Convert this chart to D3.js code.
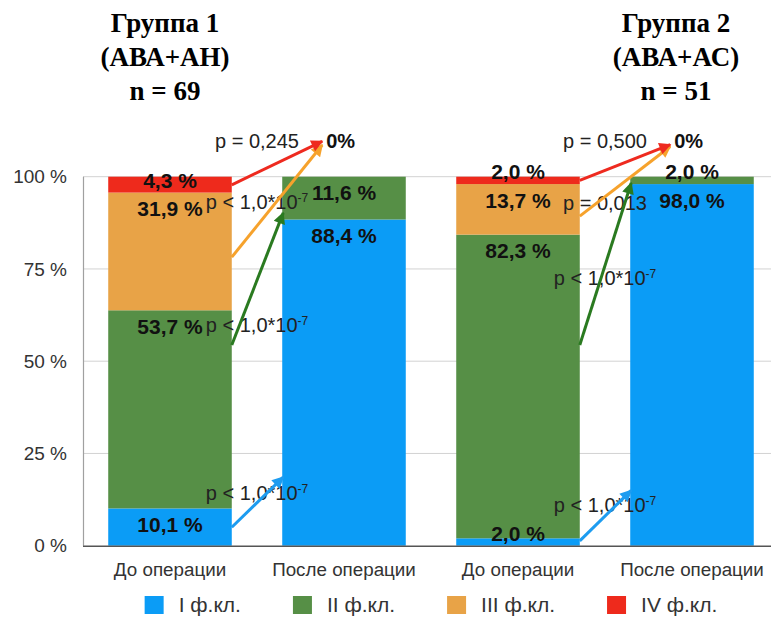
<!DOCTYPE html>
<html>
<head>
<meta charset="utf-8">
<script src="https://cdn.jsdelivr.net/npm/d3@7"></script>
<style>
  html, body { margin: 0; padding: 0; background: #fff; }
  svg { display: block; }
</style>
</head>
<body>
<svg id="chart" width="771" height="619"></svg>
<script>
// ---- data ----
const categories = ["g1-before", "g1-after", "g2-before", "g2-after"];
const categoryLabels = ["До операции", "После операции", "До операции", "После операции"];
const classNames = ["I ф.кл.", "II ф.кл.", "III ф.кл.", "IV ф.кл."];
const classI   = [10.1, 88.4, 2.0, 98.0];
const classII  = [53.7, 11.6, 82.3, 2.0];
const classIII = [31.9, 0, 13.7, 0];
const classIV  = [4.3, 0, 2.0, 0];
const yTicks = [0, 25, 50, 75, 100];

const groupTitles = [
  ["Группа 1", "(АВА+АН)", "n = 69"],
  ["Группа 2", "(АВА+АС)", "n = 51"]
];

// transitions before -> after, per group and class (I..IV)
const pValuesG1 = ["p < 1,0*10|-7", "p < 1,0*10|-7", "p < 1,0*10|-7", "p = 0,245"];
const pValuesG2 = ["p < 1,0*10|-7", "p < 1,0*10|-7", "p = 0,013", "p = 0,500"];
// arrow start / end levels (%) and p-label level (%)
const arrowFromG1 = [5.0, 54.4, 78.2, 97.8];
const arrowToG1   = [18.6, 90.2, 108.6, 109.6];
const labelAtG1   = [12.4, 57.9, 91.2, 107.8];
const arrowFromG2 = [1.3, 54.4, 89.3, 99.0];
const arrowToG2   = [15.0, 98.3, 108.2, 108.7];
const labelAtG2   = [9.1, 70.6, 90.9, 107.8];

// ---- layout ----
const svg = d3.select("#chart");
const colors = ["#0b9cf6", "#568f46", "#e8a347", "#ee2a1c"];
const arrowColors = ["#1d9cf0", "#2a7a20", "#f6a22c", "#ee2a1f"];
const fontSans = "'Liberation Sans', Arial, Helvetica, sans-serif";

const x = d3.scaleBand().domain(categories).range([83, 779])
  .paddingInner(0.29).paddingOuter(0.145);
const y = d3.scaleLinear().domain([0, 100]).range([545.7, 176.7]);

// gridlines
svg.append("g").selectAll("line").data(yTicks.filter(d => d > 0)).join("line")
  .attr("x1", 83).attr("x2", 771)
  .attr("y1", d => y(d)).attr("y2", d => y(d))
  .attr("stroke", "#d2d2d2").attr("stroke-width", 1);

// left axis line
svg.append("line").attr("x1", 83.5).attr("x2", 83.5)
  .attr("y1", y(100)).attr("y2", y(0))
  .attr("stroke", "#a0a0a0").attr("stroke-width", 1.2);

// y axis tick labels
const yAxis = d3.axisLeft(y).tickValues(yTicks).tickSize(0).tickPadding(16)
  .tickFormat(d => d + " %");
svg.append("g").attr("transform", "translate(83,0)").call(yAxis)
  .call(g => g.select(".domain").remove())
  .call(g => g.selectAll("text").attr("font-family", fontSans)
    .attr("font-size", 19).attr("fill", "#333"));

// stacked bars
const rows = categories.map((c, i) => ({
  cat: c, v: [classI[i], classII[i], classIII[i], classIV[i]]
}));
const stack = d3.stack().keys([0, 1, 2, 3]).value((d, k) => d.v[k]);
const series = stack(rows);

const barG = svg.append("g");
series.forEach((s, k) => {
  barG.selectAll(null).data(s.filter(d => d[1] - d[0] > 0)).join("rect")
    .attr("x", d => x(d.data.cat))
    .attr("width", x.bandwidth())
    .attr("y", d => y(d[1]))
    .attr("height", d => y(d[0]) - y(d[1]))
    .attr("fill", colors[k]);
});

// x axis
const xAxis = d3.axisBottom(x).tickSize(0).tickPadding(17)
  .tickFormat((d, i) => categoryLabels[i]);
svg.append("g").attr("transform", `translate(0,${y(0)})`).call(xAxis)
  .call(g => g.select(".domain").remove())
  .call(g => g.selectAll("text").attr("font-family", fontSans)
    .attr("font-size", 18.8).attr("fill", "#333"));
svg.append("line").attr("x1", 83).attr("x2", 771)
  .attr("y1", y(0) + 0.5).attr("y2", y(0) + 0.5)
  .attr("stroke", "#555").attr("stroke-width", 1.6);

// value labels
const fmt = v => v.toFixed(1).replace(".", ",") + " %";
const valG = svg.append("g");
series.forEach((s, k) => {
  s.filter(d => d[1] - d[0] > 0).forEach(d => {
    const top = y(d[1]), bottom = y(d[0]);
    const by = (bottom - top) >= 24 ? top + 23.5 : bottom - 5;
    valG.append("text")
      .attr("x", x(d.data.cat) + x.bandwidth() / 2)
      .attr("y", by)
      .attr("text-anchor", "middle")
      .attr("font-family", fontSans).attr("font-weight", "bold")
      .attr("font-size", 21).attr("fill", "#111")
      .text(fmt(d[1] - d[0]));
  });
});

// transitions: p-values and arrows
const defs = svg.append("defs");
arrowColors.forEach((c, k) => {
  defs.append("marker").attr("id", "head" + k)
    .attr("viewBox", "0 0 10 10").attr("refX", 9).attr("refY", 5)
    .attr("markerWidth", 14).attr("markerHeight", 12)
    .attr("markerUnits", "userSpaceOnUse").attr("orient", "auto")
    .append("path").attr("d", "M0,0 L10,5 L0,10 Z").attr("fill", c);
});

const transitions = [
  { before: "g1-before", after: "g1-after", p: pValuesG1, from: arrowFromG1, to: arrowToG1, at: labelAtG1 },
  { before: "g2-before", after: "g2-after", p: pValuesG2, from: arrowFromG2, to: arrowToG2, at: labelAtG2 }
];

const annG = svg.append("g");
const arrowG = svg.append("g");
transitions.forEach(t => {
  const x0 = x(t.before) + x.bandwidth();
  const x1 = x(t.after);
  const gapMid = (x0 + x1) / 2;
  // p-value labels
  t.p.forEach((p, k) => {
    const [main, sup] = p.split("|");
    const txt = annG.append("text")
      .attr("x", gapMid).attr("y", y(t.at[k]))
      .attr("text-anchor", "middle")
      .attr("font-family", fontSans).attr("font-size", 20).attr("fill", "#222");
    txt.append("tspan").text(main);
    if (sup) txt.append("tspan").attr("font-size", 12).attr("dy", -7).text(sup);
  });
  // arrows
  t.from.forEach((f, k) => {
    const toX = k >= 2 ? x1 + 40 : x1 + 1;
    arrowG.append("line")
      .attr("x1", x0).attr("y1", y(f))
      .attr("x2", toX).attr("y2", y(t.to[k]))
      .attr("stroke", arrowColors[k]).attr("stroke-width", 3)
      .attr("marker-end", `url(#head${k})`);
  });
  // 0% for classes that vanish after operation
  annG.append("text")
    .attr("x", x1 + 44).attr("y", y(107.8))
    .attr("font-family", fontSans).attr("font-weight", "bold")
    .attr("font-size", 20).attr("fill", "#111")
    .text("0%");
});

// group titles
const titleX = [165, 676];
groupTitles.forEach((lines, gi) => {
  const t = svg.append("text").attr("text-anchor", "middle")
    .attr("font-family", "'Liberation Serif', 'Times New Roman', serif")
    .attr("font-weight", "bold").attr("font-size", 27).attr("fill", "#000");
  lines.forEach((l, li) => {
    t.append("tspan").attr("x", titleX[gi]).attr("y", 32 + li * 34).text(l);
  });
});

// legend
const legend = svg.append("g");
const items = classNames.map((name, k) => {
  const g = legend.append("g");
  g.append("rect").attr("width", 19).attr("height", 18).attr("y", -16).attr("fill", colors[k]);
  const tx = g.append("text").attr("x", 34).attr("y", 0)
    .attr("font-family", fontSans).attr("font-size", 21).attr("fill", "#333").text(name);
  return { g, w: 34 + tx.node().getComputedTextLength() };
});
const legendGap = 52;
const total = d3.sum(items, d => d.w) + legendGap * (items.length - 1);
let lx = (83 + 779) / 2 - total / 2;
items.forEach(it => {
  it.g.attr("transform", `translate(${lx},612)`);
  lx += it.w + legendGap;
});
</script>
</body>
</html>
